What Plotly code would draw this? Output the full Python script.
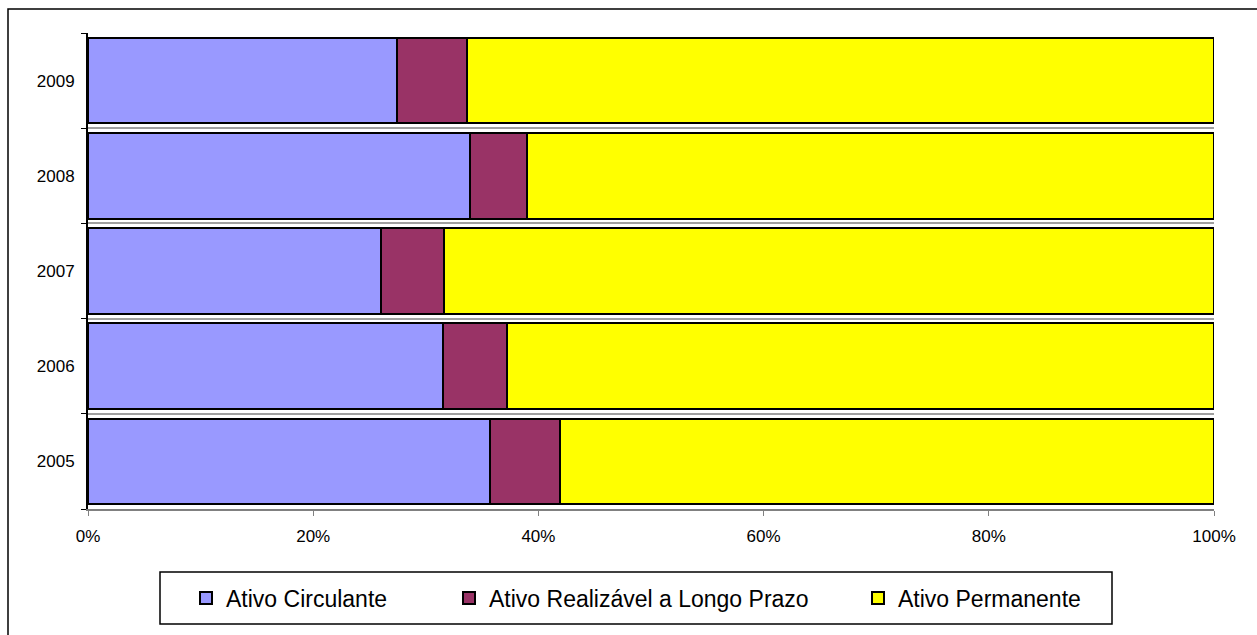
import plotly.graph_objects as go

# Composition of assets per year (% of total assets)
years = ["2005", "2006", "2007", "2008", "2009"]
ativo_circulante = [35.7, 31.5, 26.0, 33.9, 27.4]
ativo_realizavel_lp = [6.2, 5.7, 5.6, 5.1, 6.3]
ativo_permanente = [58.1, 62.8, 68.4, 61.0, 66.3]

series_names = ["Ativo Circulante", "Ativo Realizável a Longo Prazo", "Ativo Permanente"]
series_colors = ["#9999FF", "#993366", "#FFFF00"]
x_tick_vals = [0, 20, 40, 60, 80, 100]
x_tick_text = ["0%", "20%", "40%", "60%", "80%", "100%"]

FONT = "Liberation Sans, Arial, sans-serif"

# Plot area geometry in pixels (used to place the legend box and the frame)
W, H = 1257, 635
L, R, T, B = 88, 43, 33, 126
PW, PH = W - L - R, H - T - B


def px_x(px):
    return (px - L) / PW


def px_y(py):
    return (H - B - py) / PH


legend_ids = ["legend", "legend2", "legend3"]
legend_left_px = [186, 449, 858]

fig = go.Figure()
for name, vals, color, lid in zip(series_names,
                                  [ativo_circulante, ativo_realizavel_lp, ativo_permanente],
                                  series_colors, legend_ids):
    fig.add_trace(go.Bar(
        y=years, x=vals, name=name, orientation="h",
        marker=dict(color=color, line=dict(color="#000000", width=2)),
        legend=lid,
        hoverinfo="x+y+name",
    ))

legend_style = dict(
    orientation="h",
    xanchor="left", yanchor="middle",
    bgcolor="rgba(0,0,0,0)", borderwidth=0,
    font=dict(family=FONT, size=23, color="#000000"),
    itemwidth=30,
)

fig.update_layout(
    barmode="stack",
    bargap=0.1,
    width=W, height=H,
    margin=dict(l=L, r=R, t=T, b=B),
    paper_bgcolor="white", plot_bgcolor="white",
    font=dict(family=FONT, size=17, color="#000000"),
    showlegend=True,
    xaxis=dict(
        range=[0, 100],
        tickvals=x_tick_vals, ticktext=x_tick_text,
        showgrid=False, zeroline=False,
        showline=True, linecolor="#808080", linewidth=2,
        ticks="outside", ticklen=5, tickcolor="#808080", tickwidth=1,
        ticklabelstandoff=6,
        tickfont=dict(family=FONT, size=17, color="#000000"),
        fixedrange=True,
    ),
    yaxis=dict(
        type="category",
        categoryorder="array", categoryarray=years,
        tickson="boundaries",
        showgrid=True, gridcolor="#A0A0A0", gridwidth=2,
        showline=True, linecolor="#000000", linewidth=2,
        ticks="outside", ticklen=5, tickcolor="#000000", tickwidth=1,
        ticklabelstandoff=8,
        tickfont=dict(family=FONT, size=17, color="#000000"),
        fixedrange=True,
    ),
)

for lid, left in zip(legend_ids, legend_left_px):
    fig.update_layout({lid: dict(legend_style, x=px_x(left), y=px_y(598))})

# Legend frame
fig.add_shape(type="rect", xref="paper", yref="paper",
              x0=px_x(160), x1=px_x(1112), y0=px_y(624), y1=px_y(572),
              line=dict(color="#000000", width=1.5), fillcolor="rgba(0,0,0,0)")

# Outer chart frame (left and top edges visible, the rest runs past the page)
fig.add_shape(type="rect", xref="paper", yref="paper",
              x0=px_x(8), x1=px_x(1265), y0=px_y(645), y1=px_y(9),
              line=dict(color="#000000", width=1.5), fillcolor="rgba(0,0,0,0)",
              layer="below")

fig.write_html("out.html")
